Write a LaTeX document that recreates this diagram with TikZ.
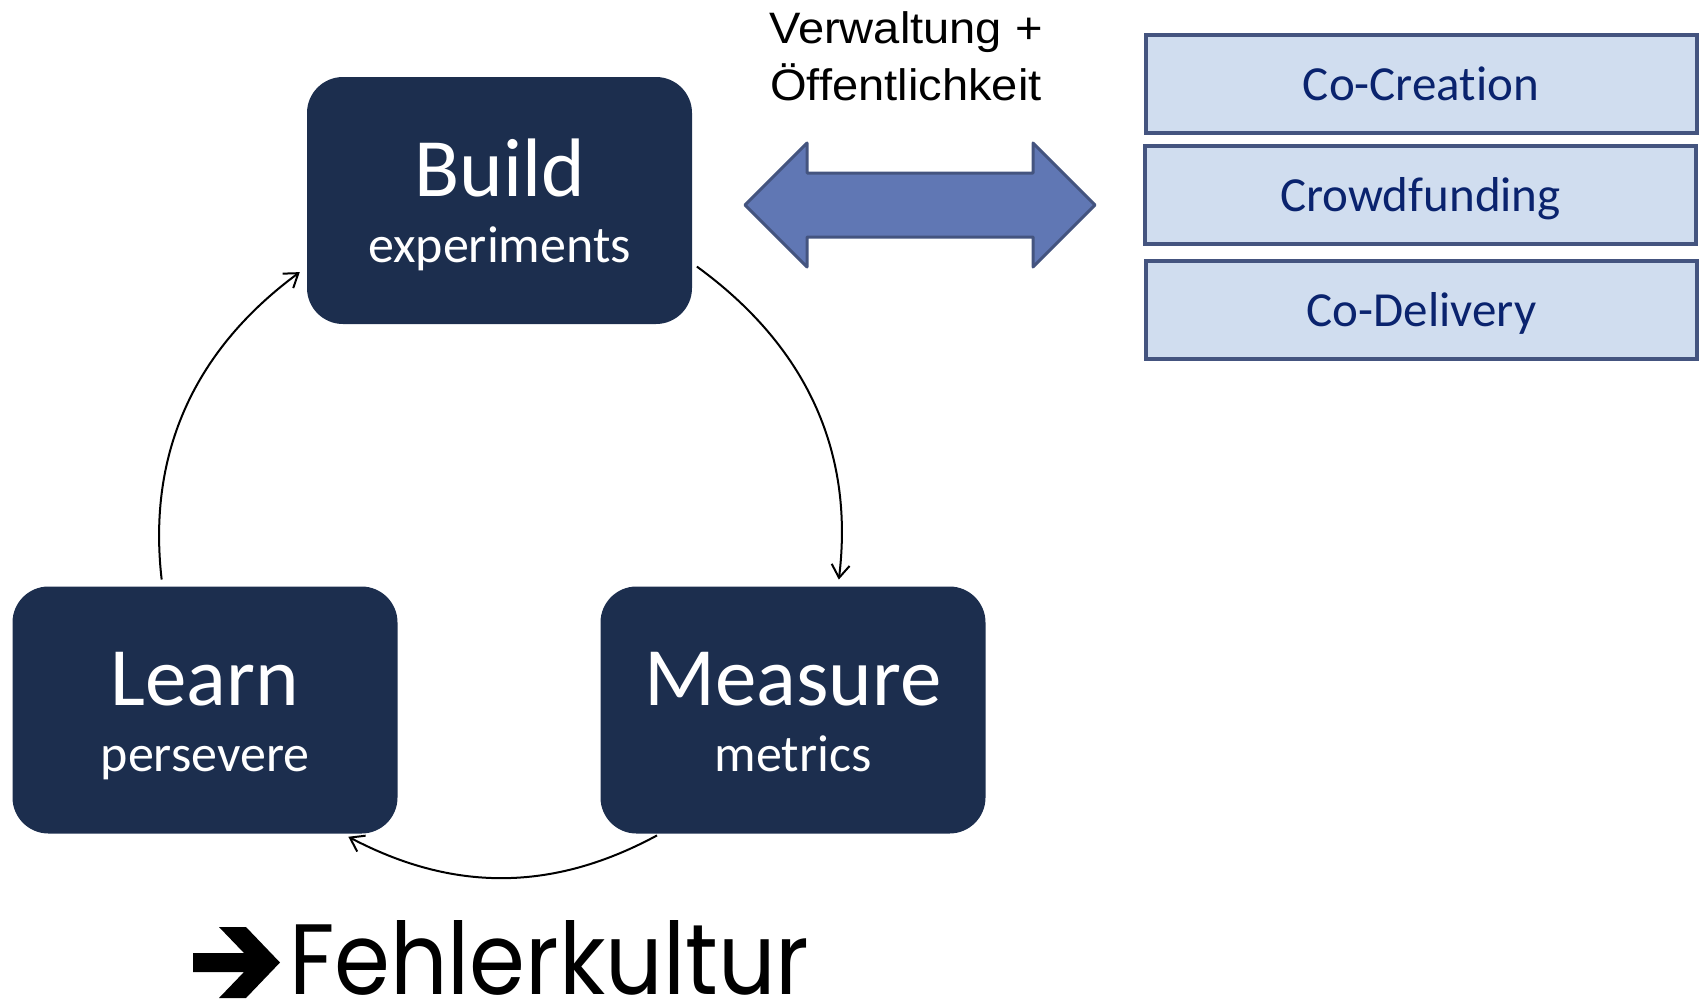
\documentclass[tikz,border=0pt]{standalone}
\usepackage{fontspec}
\usepackage{tikz}
\usetikzlibrary{arrows.meta}
\setmainfont{Carlito}[Ligatures=NoCommon]
\newfontfamily\arialfont[FakeStretch=1.07]{Liberation Sans}
\newfontfamily\gothicfont[FakeStretch=0.9]{Poppins}

\definecolor{navy}{RGB}{28,46,78}
\definecolor{paleblue}{RGB}{208,221,239}
\definecolor{frameblue}{RGB}{68,84,127}
\definecolor{arrowblue}{RGB}{96,119,180}
\definecolor{inkblue}{RGB}{10,35,110}

\tikzset{
  stage/.style={fill=navy, rounded corners=36pt, minimum width=385pt, minimum height=247pt},
  stagehead/.style={text=white, font=\fontsize{83}{90}\selectfont},
  stagesub/.style={text=white, font=\fontsize{52}{60}\selectfont},
  partbox/.style={draw=frameblue, line width=4pt, fill=paleblue, text=inkblue,
    minimum width=551pt, minimum height=98pt, text height=32pt, text depth=0pt,
    font=\fontsize{49}{55}\selectfont},
  plain/.style={font=\arialfont\fontsize{44}{50}\selectfont}
}

\begin{document}
\begin{tikzpicture}[x=1pt,y=1pt]
  \useasboundingbox (0,0) rectangle (1705,-1002);
  \begin{scope}[every node/.style={inner sep=0pt, outer sep=0pt}]
    % build - measure - learn
    \node[stage] (build) at (499.5,-200.5) {};
    \node[stage] (learn) at (205,-710) {};
    \node[stage] (measure) at (793,-710) {};
    \node[stagehead, anchor=base] (buildh) at (499.5,-196) {Build};
    \node[stagesub, anchor=base] (builds) at (499.5,-262) {experiments};
    \node[stagehead, anchor=base] (learnh) at (205,-705) {Learn};
    \node[stagesub, anchor=base] (learns) at (205,-771) {persevere};
    \node[stagehead, anchor=base] (measureh) at (793,-705) {Measure};
    \node[stagesub, anchor=base] (measures) at (793,-771) {metrics};

    % partners
    \node[partbox] (cocreation) at (1421,-84) {Co-Creation};
    \node[partbox] (crowd) at (1420.5,-195) {Crowdfunding};
    \node[partbox] (codelivery) at (1421.5,-310) {Co-Delivery};

    \node[plain, anchor=base] (verw) at (906,-43) {Verwaltung +};
    \node[plain, anchor=base] (oeff) at (906,-100) {Öffentlichkeit};

    \node[anchor=base west, text height=70pt, text depth=0pt,
      font=\gothicfont\fontsize{100}{100}\selectfont] (fehler) at (289,-994) {Fehlerkultur};
  \end{scope}

  \draw[line width=3pt, draw=frameblue, fill=arrowblue, line join=round]
    (745,-205) -- (807,-143) -- (807,-173) -- (1033,-173) -- (1033,-143) -- (1095,-205)
    -- (1033,-267) -- (1033,-237) -- (807,-237) -- (807,-267) -- cycle;

  % bold arrow in front of the text
  \fill (193,-953) -- (244,-953) -- (219,-927) -- (246,-927) -- (280,-962.5)
    -- (246,-998) -- (219,-998) -- (244,-972) -- (193,-972) -- cycle;

  \begin{scope}[every path/.style={line width=2pt, -{Straight Barb[length=13pt,width=18pt]}}]
    \path (build.-18.8) edge[out=-36, in=83, shorten <=6pt, shorten >=7pt] (measure.70.5);
    \path (measure.-137) edge[out=-151.6, in=-27.8, shorten <=4pt, shorten >=7pt] (learn.-42.6);
    \path (learn.109.5) edge[out=96.6, in=216.4, shorten <=7pt, shorten >=9pt] (build.-161);
  \end{scope}
\end{tikzpicture}
\end{document}
